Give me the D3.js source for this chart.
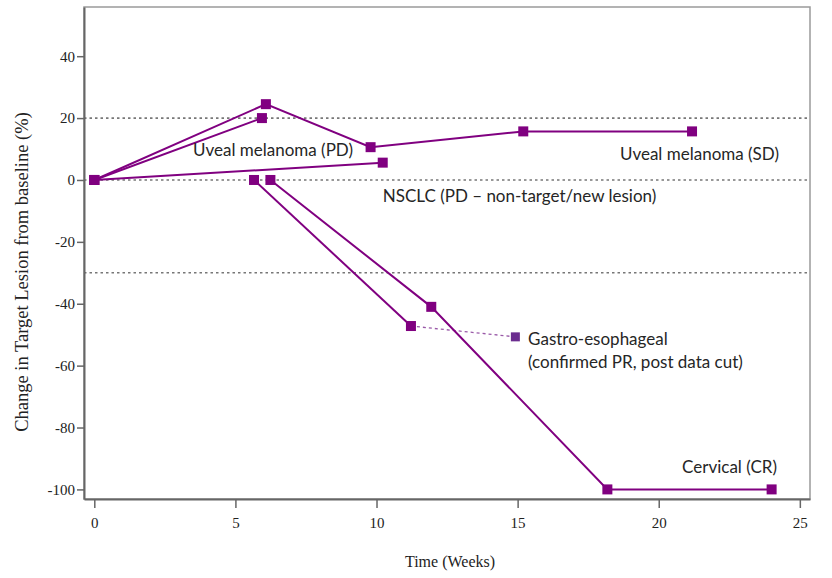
<!DOCTYPE html>
<html>
<head>
<meta charset="utf-8">
<script src="https://cdn.jsdelivr.net/npm/d3@7"></script>
<style>
  body { margin: 0; background: #fff; }
  .lbl { font-family: Lato, "Open Sans", sans-serif; font-size: 17px; fill: #262626; }
</style>
</head>
<body>
<script>
// weeks and % change for each patient
const uvealPdWeeks = [0, 5.94]
const uvealPdValues = [0, 20]
const uvealSdWeeks = [0, 6.08, 9.79, 15.2, 21.18]
const uvealSdValues = [0, 24.5, 10.6, 15.7, 15.7]
const nsclcWeeks = [0, 10.22]
const nsclcValues = [0, 5.6]
const gastroWeeks = [5.66, 11.22]
const gastroValues = [0, -47.2]
const gastroPostWeeks = [11.22, 14.92]
const gastroPostValues = [-47.2, -50.7]
const cervicalWeeks = [6.24, 11.94, 18.18, 24.0]
const cervicalValues = [0, -41, -100, -100]
const refLines = [20, 0, -30]
const xTicks = [0, 5, 10, 15, 20, 25]
const yTicks = [40, 20, 0, -20, -40, -60, -80, -100]

// text notes, placed in data units
const notes = [
  {text: 'Uveal melanoma (PD)', wk: 3.5, val: 7.8, anchor: 'start'},
  {text: 'Uveal melanoma (SD)', wk: 24.26, val: 6.4, anchor: 'end'},
  {text: 'NSCLC (PD \u2013 non-target/new lesion)', wk: 10.22, val: -7.1, anchor: 'start'},
  {text: 'Gastro-esophageal', wk: 15.37, val: -53.3, anchor: 'start'},
  {text: '(confirmed PR, post data cut)', wk: 15.37, val: -60.8, anchor: 'start'},
  {text: 'Cervical (CR)', wk: 24.19, val: -94.7, anchor: 'end'}
]

let width = 832
let height = 578
let mLeft = 84, mRight = 810, mTop = 7, mBottom = 499

const svg = d3.select('body').append('svg').attr('width', width).attr('height', height)

const x = d3.scaleLinear().domain([-0.365, 25.36]).range([mLeft, mRight])
const y = d3.scaleLinear().domain([-103.1, 55.9]).range([mBottom, mTop])

// frame
svg.append('rect')
  .attr('x', mLeft).attr('y', mTop)
  .attr('width', mRight - mLeft).attr('height', mBottom - mTop)
  .attr('fill', 'none').attr('stroke', '#9a9a9a').attr('stroke-width', 1.5)

// dotted reference lines
svg.selectAll('.ref')
  .data(refLines)
  .enter()
  .append('line')
  .attr('x1', mLeft).attr('x2', mRight)
  .attr('y1', d => y(d)).attr('y2', d => y(d))
  .attr('stroke', '#777').attr('stroke-width', 1.6)
  .attr('stroke-dasharray', '2.5,3')

const xAxis = svg.append('g')
  .attr('transform', `translate(0,${mBottom})`)
  .call(d3.axisBottom(x).tickValues(xTicks).tickFormat(d => String(d)).tickSize(9).tickSizeOuter(0).tickPadding(9))
xAxis.select('.domain').attr('stroke', '#666').attr('stroke-width', 2)
xAxis.selectAll('.tick line').attr('stroke', '#666').attr('stroke-width', 1.5)

const yAxis = svg.append('g')
  .attr('transform', `translate(${mLeft},0)`)
  .call(d3.axisLeft(y).tickValues(yTicks).tickFormat(d => String(d)).tickSize(7).tickSizeOuter(0).tickPadding(2))
yAxis.select('.domain').attr('stroke', '#666').attr('stroke-width', 2)
yAxis.selectAll('.tick line').attr('stroke', '#666').attr('stroke-width', 1.5)

svg.selectAll('.tick text')
  .style('font-family', '"Liberation Serif", serif')
  .style('font-size', '15px')
  .style('fill', '#222')

const line = d3.line().x(d => x(d[0])).y(d => y(d[1]))
const purple = '#800080'

const series = [
  [uvealPdWeeks, uvealPdValues],
  [uvealSdWeeks, uvealSdValues],
  [nsclcWeeks, nsclcValues],
  [gastroWeeks, gastroValues],
  [cervicalWeeks, cervicalValues]
]

// post data cut, dashed
const post = d3.zip(gastroPostWeeks, gastroPostValues)
svg.append('path')
  .attr('d', line(post))
  .attr('fill', 'none').attr('stroke', '#9a5aa8').attr('stroke-width', 1.3)
  .attr('stroke-dasharray', '3,3')
svg.append('rect')
  .attr('x', x(post[1][0]) - 4.5).attr('y', y(post[1][1]) - 4.5)
  .attr('width', 9).attr('height', 9)
  .attr('fill', '#6b2d8f')

series.forEach(s => {
  const pts = d3.zip(s[0], s[1])
  svg.append('path')
    .attr('d', line(pts))
    .attr('fill', 'none').attr('stroke', purple).attr('stroke-width', 2)
  svg.append('g').selectAll('rect')
    .data(pts)
    .enter()
    .append('rect')
    .attr('x', d => x(d[0]) - 5).attr('y', d => y(d[1]) - 5)
    .attr('width', 10).attr('height', 10)
    .attr('fill', purple)
})

svg.selectAll('.lbl')
  .data(notes)
  .enter()
  .append('text')
  .attr('class', 'lbl')
  .attr('x', d => x(d.wk)).attr('y', d => y(d.val))
  .attr('text-anchor', d => d.anchor)
  .text(d => d.text)

// axis titles
svg.append('text')
  .attr('x', (mLeft + mRight) / 2 + 3).attr('y', 567)
  .attr('text-anchor', 'middle')
  .style('font-family', '"Liberation Serif", serif').style('font-size', '16px').style('fill', '#222')
  .text('Time (Weeks)')

svg.append('text')
  .attr('transform', 'translate(28,272) rotate(-90)')
  .attr('text-anchor', 'middle')
  .style('font-family', '"Liberation Serif", serif').style('font-size', '18.5px').style('fill', '#222')
  .text('Change in Target Lesion from baseline (%)')
</script>
</body>
</html>
